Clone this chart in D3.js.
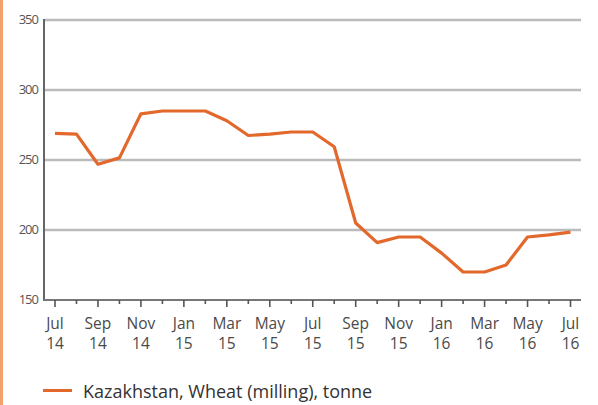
<!DOCTYPE html>
<html><head><meta charset="utf-8">
<script src="https://cdn.jsdelivr.net/npm/d3@7"></script>
<style>body{margin:0;background:#fff;}svg{display:block;}</style>
</head><body>
<svg id="c" width="598" height="405"></svg>
<script>
const months = ["Jul 14","Aug 14","Sep 14","Oct 14","Nov 14","Dec 14","Jan 15","Feb 15","Mar 15","Apr 15","May 15","Jun 15","Jul 15","Aug 15","Sep 15","Oct 15","Nov 15","Dec 15","Jan 16","Feb 16","Mar 16","Apr 16","May 16","Jun 16","Jul 16"];
const values = [269,268.5,247,251.5,283,285,285,285,278,267.5,268.5,270,270,259.5,205,191,195,195,183.5,170,170,175,195,196.5,198.5];
const yTicks = [150,200,250,300,350];
const xTickLabels = [["Jul","14"],["Sep","14"],["Nov","14"],["Jan","15"],["Mar","15"],["May","15"],["Jul","15"],["Sep","15"],["Nov","15"],["Jan","16"],["Mar","16"],["May","16"],["Jul","16"]];
const legendLabel = "Kazakhstan, Wheat (milling), tonne";

const svg = d3.select("#c");
const font = "'Open Sans', 'Noto Sans', sans-serif";
const x = d3.scaleLinear().domain([0, months.length-1]).range([55, 570.5]);
const y = d3.scaleLinear().domain([150, 350]).range([300, 20]);

// left orange border
svg.append("rect").attr("x",0).attr("y",0).attr("width",3).attr("height",405).attr("fill","#F2A06E");

// gridlines
svg.append("g").selectAll("line").data(yTicks.filter(d=>d>150)).join("line")
  .attr("x1",44).attr("x2",581).attr("y1",d=>y(d)).attr("y2",d=>y(d))
  .attr("stroke","#bbbbbb").attr("stroke-width",2.4);

// y labels
svg.append("g").selectAll("text").data(yTicks).join("text")
  .attr("x",38).attr("y",d=>y(d)+4).attr("text-anchor","end")
  .attr("font-family",font).attr("font-size",13).attr("fill","#555")
  .attr("letter-spacing","-1").text(d=>d);

// left axis
svg.append("line").attr("x1",44).attr("x2",44).attr("y1",19).attr("y2",301)
  .attr("stroke","#666").attr("stroke-width",2);
// bottom axis
svg.append("line").attr("x1",43).attr("x2",581).attr("y1",300).attr("y2",300)
  .attr("stroke","#777").attr("stroke-width",2);

// ticks
svg.append("g").selectAll("line").data(d3.range(months.length)).join("line")
  .attr("x1",d=>x(d)).attr("x2",d=>x(d)).attr("y1",300)
  .attr("y2",d=>d%2===0?307:304)
  .attr("stroke","#555").attr("stroke-width",1.6);

// x labels
const xl = svg.append("g").selectAll("text").data(xTickLabels).join("text")
  .attr("x",(d,i)=>x(i*2)).attr("text-anchor","middle")
  .attr("font-family",font).attr("font-size",15.5).attr("fill","#4a4a4a");
xl.append("tspan").attr("x",(d,i)=>x(i*2)).attr("y",329).text(d=>d[0]);
xl.append("tspan").attr("x",(d,i)=>x(i*2)).attr("y",349).text(d=>d[1]);

// line
const line = d3.line().x((d,i)=>x(i)).y(d=>y(d));
svg.append("path").datum(values).attr("d",line).attr("fill","none")
  .attr("stroke","#E2682C").attr("stroke-width",3.2).attr("stroke-linejoin","round");

// legend
svg.append("line").attr("x1",43).attr("x2",72).attr("y1",390.5).attr("y2",390.5)
  .attr("stroke","#E2682C").attr("stroke-width",3);
svg.append("text").attr("x",83).attr("y",397.5).attr("font-family",font)
  .attr("font-size",18).attr("fill","#333").text(legendLabel);
</script>
</body></html>
